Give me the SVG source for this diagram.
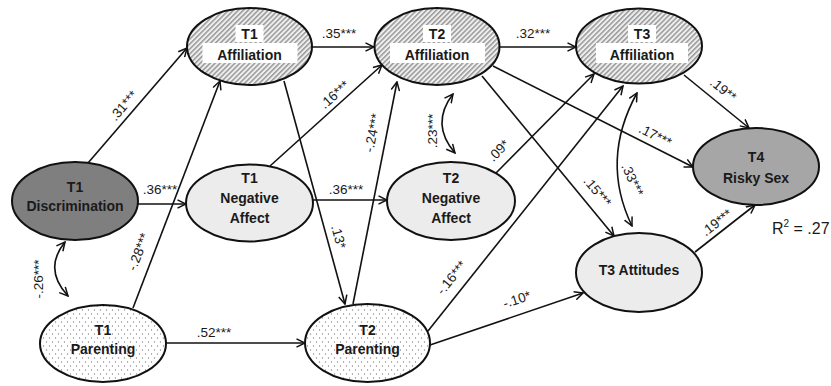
<svg xmlns="http://www.w3.org/2000/svg" width="831" height="386" viewBox="0 0 831 386">
<style>
.n{stroke:#111;stroke-width:2}
.t{font-family:"Liberation Sans",Arial,sans-serif;font-weight:bold;font-size:14px;fill:#1a1a1a;text-anchor:middle}
.l{font-family:"Liberation Sans",Arial,sans-serif;font-size:13.5px;fill:#1a1a1a;text-anchor:middle}
.e{stroke:#111;stroke-width:1.6;fill:none;marker-end:url(#ah)}
.c{stroke:#111;stroke-width:1.6;fill:none;marker-end:url(#ah);marker-start:url(#ah)}
.wb{fill:#fff}
</style>
<defs>
<marker id="ah" viewBox="0 0 10 10" refX="9" refY="5" markerWidth="10" markerHeight="10" markerUnits="userSpaceOnUse" orient="auto-start-reverse">
<path d="M0.5,0.8 L9,5 L0.5,9.2" fill="none" stroke="#111" stroke-width="1.5"/>
</marker>
<pattern id="hatch" width="3.5" height="3.5" patternUnits="userSpaceOnUse" patternTransform="rotate(45)">
<rect width="3.5" height="3.5" fill="#efefef"/>
<line x1="0.8" y1="0" x2="0.8" y2="3.5" stroke="#8a8a8a" stroke-width="1.3"/>
</pattern>
<pattern id="dots" width="6" height="8" patternUnits="userSpaceOnUse">
<rect width="6" height="8" fill="#fff"/>
<circle cx="1.5" cy="2" r="0.7" fill="#8a8a8a"/>
<circle cx="4.5" cy="6" r="0.7" fill="#8a8a8a"/>
</pattern>
</defs>
<rect width="831" height="386" fill="#fff"/>

<g id="connectors">
<line class="e" x1="88" y1="163" x2="187" y2="48"/>
<line class="e" x1="138" y1="204" x2="186" y2="204"/>
<line class="e" x1="133" y1="308" x2="220" y2="81"/>
<line class="e" x1="312" y1="47" x2="374" y2="47"/>
<line class="e" x1="270" y1="166" x2="382" y2="65"/>
<line class="e" x1="284" y1="81" x2="345" y2="304"/>
<line class="e" x1="353" y1="304" x2="397" y2="82"/>
<line class="e" x1="313" y1="200" x2="387" y2="200"/>
<line class="e" x1="166" y1="343" x2="305" y2="343"/>
<line class="e" x1="500" y1="47" x2="576" y2="47"/>
<line class="e" x1="496" y1="173" x2="594" y2="74"/>
<line class="e" x1="428" y1="331" x2="623" y2="86"/>
<line class="e" x1="430" y1="345" x2="583" y2="293"/>
<line class="e" x1="482" y1="76" x2="614" y2="236"/>
<line class="e" x1="493" y1="66" x2="693" y2="167"/>
<line class="e" x1="684" y1="75" x2="749" y2="128"/>
<line class="e" x1="695" y1="252" x2="755" y2="205"/>
<path class="c" d="M65,242 Q43,269 68,296"/>
<path class="c" d="M453,94 Q430,124 455,153"/>
<path class="c" d="M637,93 Q600,160 632,226"/>

<text class="l" transform="translate(124,106) rotate(-49)" y="4">.31***</text>
<text class="l" x="160" y="194">.36***</text>
<text class="l" transform="translate(139,252) rotate(-69)" y="4">-.28***</text>
<text class="l" x="339" y="38">.35***</text>
<text class="l" transform="translate(335,95) rotate(-42)" y="4">.16***</text>
<text class="l" transform="translate(338,237) rotate(75)" y="4">.13*</text>
<text class="l" transform="translate(373,133) rotate(-79)" y="4">-.24***</text>
<text class="l" x="346" y="194">.36***</text>
<text class="l" x="214" y="337">.52***</text>
<text class="l" x="533" y="38">.32***</text>
<text class="l" transform="translate(433,131) rotate(-90)" y="4">.23***</text>
<text class="l" transform="translate(499,151) rotate(-45)" y="4">.09*</text>
<text class="l" transform="translate(723,90) rotate(39)" y="4">.19**</text>
<text class="l" transform="translate(655,136) rotate(27)" y="4">.17***</text>
<text class="l" transform="translate(597,192) rotate(50)" y="4">.15***</text>
<text class="l" transform="translate(452,278) rotate(-51)" y="4">-.16***</text>
<text class="l" transform="translate(517,300) rotate(-18)" y="4">-.10*</text>
<text class="l" transform="translate(717,223) rotate(-38)" y="4">.19***</text>
<text class="l" transform="translate(39,279) rotate(-90)" y="4">-.26***</text>
<text class="l" transform="translate(632,180) rotate(65)" y="4">.33***</text>
</g>

<g id="t1-affiliation">
<ellipse class="n" cx="249.5" cy="46.5" rx="62.5" ry="38.5" fill="url(#hatch)"/>
<rect class="wb" x="235.5" y="25" width="28" height="17"/>
<rect class="wb" x="202.5" y="43" width="95" height="20"/>
<text class="t" x="249.5" y="38.5">T1</text>
<text class="t" x="249.5" y="60">Affiliation</text>
</g>
<g id="t2-affiliation">
<ellipse class="n" cx="437" cy="46.5" rx="62.5" ry="38.5" fill="url(#hatch)"/>
<rect class="wb" x="423" y="25" width="28" height="17"/>
<rect class="wb" x="390" y="43" width="95" height="20"/>
<text class="t" x="437" y="38.5">T2</text>
<text class="t" x="437" y="60">Affiliation</text>
</g>
<g id="t3-affiliation">
<ellipse class="n" cx="639" cy="46" rx="63" ry="37.5" fill="url(#hatch)"/>
<rect class="wb" x="628" y="25" width="28" height="17"/>
<rect class="wb" x="596" y="43" width="92" height="20"/>
<text class="t" x="642" y="38.5">T3</text>
<text class="t" x="642" y="60">Affiliation</text>
</g>
<g id="t4-risky-sex">
<ellipse class="n" cx="756" cy="166.5" rx="63" ry="38.5" fill="#a6a6a6"/>
<text class="t" x="756" y="162">T4</text>
<text class="t" x="756" y="183">Risky Sex</text>
</g>
<g id="t1-discrimination">
<ellipse class="n" cx="75" cy="201" rx="63" ry="39" fill="#7f7f7f"/>
<text class="t" x="75" y="192">T1</text>
<text class="t" x="75" y="211">Discrimination</text>
</g>
<g id="t1-negative-affect">
<ellipse class="n" cx="249.5" cy="203" rx="63.5" ry="38.5" fill="#ececec"/>
<text class="t" x="249.5" y="183">T1</text>
<text class="t" x="249.5" y="203">Negative</text>
<text class="t" x="249.5" y="223">Affect</text>
</g>
<g id="t2-negative-affect">
<ellipse class="n" cx="451" cy="201" rx="64" ry="39" fill="#ececec"/>
<text class="t" x="451" y="183">T2</text>
<text class="t" x="451" y="203">Negative</text>
<text class="t" x="451" y="223">Affect</text>
</g>
<g id="t1-parenting">
<ellipse class="n" cx="103" cy="343.5" rx="63" ry="38.5" fill="url(#dots)"/>
<text class="t" x="103" y="335">T1</text>
<text class="t" x="103" y="354">Parenting</text>
</g>
<g id="t2-parenting">
<ellipse class="n" cx="367.5" cy="343" rx="62.5" ry="39" fill="url(#dots)"/>
<text class="t" x="367.5" y="335">T2</text>
<text class="t" x="367.5" y="354">Parenting</text>
</g>
<g id="t3-attitudes">
<ellipse class="n" cx="639" cy="272.5" rx="63" ry="39.5" fill="#ececec"/>
<text class="t" x="639" y="275">T3 Attitudes</text>
</g>
<g id="r2">
<text x="772" y="234" font-family="Liberation Sans, Arial, sans-serif" font-size="16" fill="#1a1a1a">R<tspan font-size="10" dy="-7">2</tspan><tspan dy="7"> = .27</tspan></text>
</g>
</svg>
